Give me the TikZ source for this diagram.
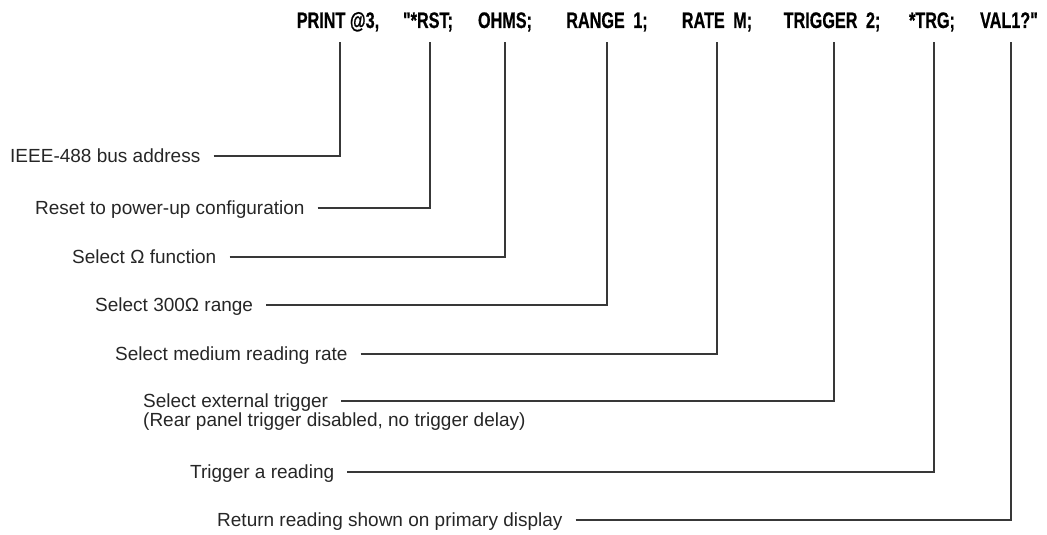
\documentclass[tikz,border=0pt]{standalone}
\usepackage{fontspec}
\setmainfont{Liberation Sans}
\newfontfamily\condbold[FakeStretch=0.72,FakeBold=0.6]{Liberation Sans Bold}
\begin{document}
\begin{tikzpicture}[x=1pt,y=-1pt,
  tok/.style={font=\condbold\fontsize{22.5}{24}\selectfont, anchor=base, inner xsep=0pt, inner ysep=0pt, text depth=14pt},
  lab/.style={font=\fontsize{19}{21}\selectfont, anchor=west, inner sep=0pt, text height=12.7pt, text depth=0pt, text=black!85},
  conn/.style={draw=black!78, line width=1.2pt, shorten <=13pt}]
\useasboundingbox (0,0) rectangle (1047,535);
% command tokens
\node[tok] (t1) at (338,28) {PRINT @3,};
\node[tok] (t2) at (428,28) {"*RST;};
\node[tok] (t3) at (505,28) {OHMS;};
\node[tok] (t4) at (607,28) {RANGE\hspace{4pt} 1;};
\node[tok] (t5) at (717,28) {RATE\hspace{4pt} M;};
\node[tok] (t6) at (832,28) {TRIGGER\hspace{4pt} 2;};
\node[tok] (t7) at (932,28) {*TRG;};
\node[tok] (t8) at (1009,28) {VAL1?"};
% labels
\node[lab] (l1) at (10,156) {IEEE-488 bus address};
\node[lab] (l2) at (35,208) {Reset to power-up configuration};
\node[lab] (l3) at (72,257) {Select Ω function};
\node[lab] (l4) at (95,305) {Select 300Ω range};
\node[lab] (l5) at (115,354) {Select medium reading rate};
\node[lab] (l6) at (143,401) {Select external trigger};
\node[lab] (l6b) at (143,420) {(Rear panel trigger disabled, no trigger delay)};
\node[lab] (l7) at (190,472) {Trigger a reading};
\node[lab] (l8) at (217,520) {Return reading shown on primary display};
% connectors
\draw[conn] (l1.east) -| ([xshift=2pt]t1.south);
\draw[conn] (l2.east) -| ([xshift=2pt]t2.south);
\draw[conn] (l3.east) -| (t3.south);
\draw[conn] (l4.east) -| (t4.south);
\draw[conn] (l5.east) -| (t5.south);
\draw[conn] (l6.east) -| ([xshift=2pt]t6.south);
\draw[conn] (l7.east) -| ([xshift=2pt]t7.south);
\draw[conn] (l8.east) -| ([xshift=2pt]t8.south);
\end{tikzpicture}
\end{document}
